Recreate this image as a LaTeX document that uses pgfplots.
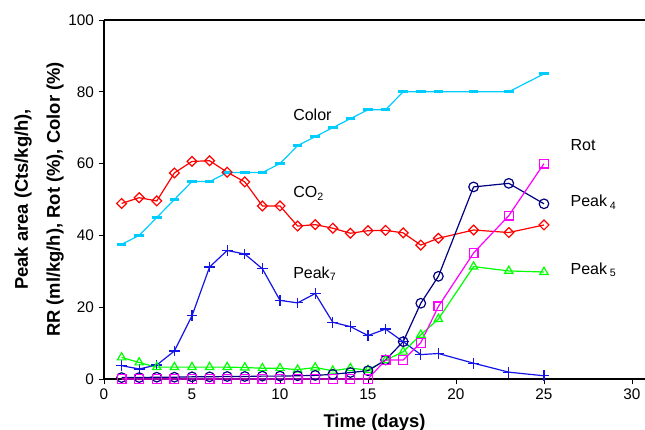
\documentclass[border=0pt]{standalone}
\usepackage{fontspec}
\setmainfont{Liberation Sans}
\usepackage{pgfplots}
\usepackage{pgfplotstable}
\pgfplotsset{compat=1.18}
\definecolor{ccolor}{RGB}{0,204,255}
\definecolor{cco}{RGB}{255,0,0}
\definecolor{cpsev}{RGB}{20,20,230}
\definecolor{cpfive}{RGB}{0,255,0}
\definecolor{cpfour}{RGB}{0,0,128}
\definecolor{crot}{RGB}{255,0,255}

\pgfplotstableread{
d v
1 37.5
2 40
3 45
4 50
5 55
6 55
7 57.5
8 57.5
9 57.5
10 60
11 65
12 67.5
13 70
14 72.5
15 75
16 75
17 80
18 80
19 80
21 80
23 80
25 85
}\tcolor
\pgfplotstableread{
d v
1 48.9
2 50.5
3 49.6
4 57.4
5 60.6
6 60.8
7 57.6
8 54.9
9 48.2
10 48.2
11 42.6
12 43.0
13 42.0
14 40.6
15 41.3
16 41.4
17 40.7
18 37.3
19 39.2
21 41.5
23 40.8
25 42.9
}\tco
\pgfplotstableread{
d v
1 3.7
2 2.8
3 3.9
4 7.8
5 17.6
6 31.2
7 35.8
8 34.8
9 30.7
10 21.9
11 21.2
12 23.8
13 15.8
14 14.6
15 12.1
16 13.9
17 10.4
18 6.8
19 7.1
21 4.4
23 1.9
25 0.9
}\tpsev
\pgfplotstableread{
d v
1 6.0
2 4.6
3 3.3
4 3.3
5 3.3
6 3.3
7 3.3
8 3.2
9 3.0
10 3.0
11 2.6
12 3.2
13 2.3
14 3.0
15 2.5
16 5.2
17 7.6
18 12.3
19 16.7
21 31.3
23 30.1
25 29.8
}\tpfive
\pgfplotstableread{
d v
1 0.4
2 0.4
3 0.5
4 0.5
5 0.6
6 0.6
7 0.7
8 0.7
9 0.8
10 0.8
11 0.9
12 1.0
13 1.3
14 1.8
15 2.3
16 5.3
17 10.4
18 21.1
19 28.6
21 53.5
23 54.5
25 48.8
}\tpfour
\pgfplotstableread{
d v
1 0
2 0
3 0
4 0
5 0
6 0
7 0
8 0
9 0
10 0
11 0
12 0
13 0
14 0
15 0
16 5.3
17 5.3
18 10.1
19 20.2
21 35.1
23 45.5
25 60
}\trot

\begin{document}
\begin{tikzpicture}
\begin{axis}[
  scale only axis,
  width=405.75pt, height=269.25pt,
  xmin=0, xmax=30.74, ymin=0, ymax=100,
  axis x line*=bottom, axis y line*=left,
  xtick={0,5,...,30}, ytick={0,20,...,100},
  tick align=outside,
  major tick length=4pt,
  tick style={black, line width=0.6pt},
  axis line style={black, line width=0.8pt},
  tick label style={font=\fontsize{11.5}{14}\selectfont},
  /pgf/number format/assume math mode=true,
  xlabel={Time (days)},
  xlabel style={at={(axis description cs:0.5,0)}, anchor=base, yshift=-36.75pt, font=\fontsize{13.8}{16}\selectfont\bfseries},
  ylabel={Peak area (Cts/kg/h),\\RR (ml/kg/h), Rot (\%), Color (\%)},
  ylabel style={at={(axis description cs:-0.12,0.5)}, anchor=center, align=center, font=\fontsize{13.8}{24}\selectfont\bfseries},
  clip=false,
  every axis plot/.append style={line width=0.9pt},
]
\coordinate (sw) at (rel axis cs:0,0);
\coordinate (ne) at (rel axis cs:1,1);
\draw[black, line width=0.8pt] (rel axis cs:0,1) -- (rel axis cs:1,1);

\addplot[color=ccolor, mark=-, mark size=3.6pt, mark options={line width=2.2pt}] table[x=d,y=v]{\tcolor};
\addplot[color=cco, mark=square, mark size=2.6pt, mark options={rotate=45, line width=0.9pt}] table[x=d,y=v]{\tco};
\addplot[color=cpsev, mark=+, mark size=4pt, mark options={line width=0.9pt}] table[x=d,y=v]{\tpsev};
\addplot[color=cpfive, mark=triangle, mark size=3.6pt, mark options={line width=0.9pt}] table[x=d,y=v]{\tpfive};
\addplot[color=cpfour, mark=o, mark size=3.6pt, mark options={line width=0.9pt}] table[x=d,y=v]{\tpfour};
\addplot[color=crot, mark=square, mark size=3.3pt, mark options={line width=0.9pt}] table[x=d,y=v]{\trot};

\node[anchor=west, inner sep=0pt, font=\fontsize{12}{14}\selectfont] at (axis cs:10.74,73.6) {Color};
\node[anchor=west, inner sep=0pt, font=\fontsize{12}{14}\selectfont] at (axis cs:10.74,51.7) {CO\textsubscript{2}};
\node[anchor=west, inner sep=0pt, font=\fontsize{12}{14}\selectfont] at (axis cs:10.74,29.4) {Peak\textsubscript{7}};
\node[anchor=west, inner sep=0pt, font=\fontsize{12}{14}\selectfont] at (axis cs:26.5,65.2) {Rot};
\node[anchor=west, inner sep=0pt, font=\fontsize{12}{14}\selectfont] at (axis cs:26.5,49.3) {Peak\,\textsubscript{4}};
\node[anchor=west, inner sep=0pt, font=\fontsize{12}{14}\selectfont] at (axis cs:26.5,30.5) {Peak\,\textsubscript{5}};
\end{axis}
\pgfresetboundingbox
\path[use as bounding box] ([shift={(-78pt,-38.25pt)}]sw) rectangle ([shift={(0pt,15pt)}]ne);
\end{tikzpicture}
\end{document}
